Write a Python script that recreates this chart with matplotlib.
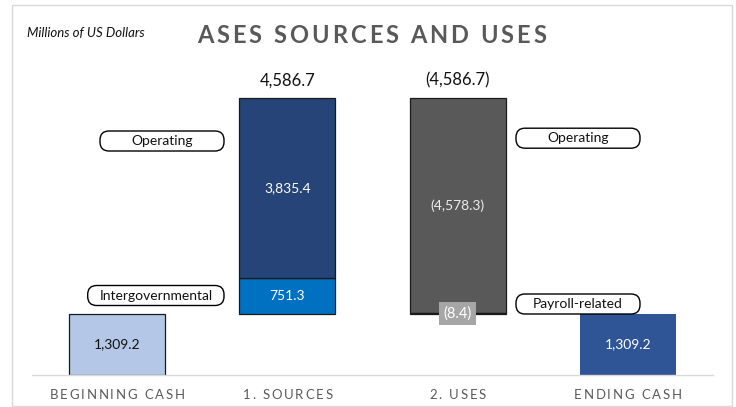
import matplotlib
matplotlib.use('Agg')
import matplotlib.pyplot as plt
from matplotlib.patches import FancyBboxPatch, Rectangle
from matplotlib.font_manager import FontProperties
from matplotlib.textpath import TextToPath
from matplotlib.transforms import IdentityTransform

# ---------------- data ----------------
categories = ['BEGINNING CASH', '1. SOURCES', '2. USES', 'ENDING CASH']
beginning_cash = 1309.2
sources_labels = ['Intergovernmental', 'Operating']
sources_values = [751.3, 3835.4]
uses_labels = ['Operating', 'Payroll-related']
uses_values = [-4578.3, -8.4]
ending_cash = 1309.2
title = 'ASES SOURCES AND USES'
unit_note = 'Millions of US Dollars'

# ---------------- styling ----------------
W, H, DPI = 736, 407, 100
FONT = 'Lato'
C_BEGIN = '#B4C7E7'
C_SRC = ['#0070C0', '#264478']
C_USE = ['#595959', '#A6A6A6']
C_END = '#2F5597'
C_TXT_GRAY = '#595959'
EDGE = '#1a1a1a'

plt.rcParams['font.family'] = [FONT, 'DejaVu Sans']

fig = plt.figure(figsize=(W / DPI, H / DPI), dpi=DPI)
fig.patch.set_facecolor('white')

# axes placed in pixel terms (image coords measured from top)
ax_left, ax_right, ax_bottom, ax_top = 32, 713, 375.3, 60
ax = fig.add_axes([ax_left / W, 1 - ax_bottom / H,
                   (ax_right - ax_left) / W, (ax_bottom - ax_top) / H])
px_per_unit = 0.0471
ax.set_xlim(-0.5, 3.5)
ax.set_ylim(0, (ax_bottom - ax_top) / px_per_unit)
for s in ['top', 'right', 'left']:
    ax.spines[s].set_visible(False)
ax.spines['bottom'].set_color('#D9D9D9')
ax.spines['bottom'].set_linewidth(1.0)
ax.set_xticks([])
ax.set_yticks([])
ax.patch.set_alpha(0)

BW = 0.563


def fmt(v):
    s = f'{abs(v):,.1f}'
    return f'({s})' if v < 0 else s


def label_in(x, bottom, height, color, size=10):
    ax.text(x, bottom + height / 2, fmt(height), ha='center', va='center',
            color=color, fontsize=size)


# beginning cash
ax.bar(0, beginning_cash, width=BW, color=C_BEGIN, edgecolor=EDGE, linewidth=0.9)
label_in(0, 0, beginning_cash, '#111111')

# sources stacked
b = beginning_cash
for v, c in zip(sources_values, C_SRC):
    ax.bar(1, v, bottom=b, width=BW, color=c, edgecolor=EDGE, linewidth=0.9)
    label_in(1, b, v, 'white')
    b += v
src_total = sum(sources_values)
top_level = b
ax.annotate(fmt(src_total), (1, top_level), xytext=(0, 8.4), textcoords='offset points',
            ha='center', va='baseline', fontsize=12, color='#111111')

# uses stacked downward
b = top_level
for i, (v, c) in enumerate(zip(uses_values, C_USE)):
    ax.bar(2, v, bottom=b, width=BW, color=c, edgecolor=EDGE, linewidth=0.9)
    if i == 0:
        label_in(2, b, v, '#EDEDED')
    else:
        ax.text(2, b + v / 2, fmt(v), ha='center', va='center', color='white',
                fontsize=10.5,
                bbox=dict(boxstyle='square,pad=0.32', fc='#A6A6A6', ec='none'))
    b += v
use_total = sum(uses_values)
ax.annotate(fmt(use_total), (2, top_level), xytext=(0, 8.4), textcoords='offset points',
            ha='center', va='baseline', fontsize=12, color='#111111')

# ending cash
ax.bar(3, ending_cash, width=BW, color=C_END, edgecolor='none')
label_in(3, 0, ending_cash, 'white')

# ---------------- pixel helpers ----------------
ID = IdentityTransform()
t2p = TextToPath()


def py(y_img):
    return H - y_img


def spaced_text(xc, baseline_img, s, size, color, weight='normal', target=None, track=0.0):
    prop = FontProperties(family=FONT, size=size, weight=weight)
    widths = [t2p.get_text_width_height_descent(ch, prop, ismath=False)[0] * DPI / 72 for ch in s]
    if target is not None:
        track = (target - sum(widths)) / (len(s) - 1)
    total = sum(widths) + track * (len(s) - 1)
    x = xc - total / 2
    for ch, w in zip(s, widths):
        fig.text(x, py(baseline_img), ch, transform=ID, fontproperties=prop,
                 color=color, ha='left', va='baseline')
        x += w + track
    return track


def callout(x0, x1, yc_img, text, h=20):
    w = x1 - x0
    p = FancyBboxPatch((x0, py(yc_img) - h / 2), w, h,
                       boxstyle=f'round,pad=0,rounding_size={h/2 - 1}',
                       transform=ID, fc='white', ec='black', lw=1.0, zorder=5)
    fig.add_artist(p)
    fig.text((x0 + x1) / 2, py(yc_img), text, transform=ID, ha='center',
             va='center', fontsize=10, color='#111111', zorder=6)


# title & unit note
spaced_text(371.5, 43, title, 17, C_TXT_GRAY, weight='bold', target=349)
fig.text(27, py(36.7), unit_note, transform=ID, ha='left', va='baseline',
         fontsize=9.5, style='italic', color='#111111')

# category labels (letter-spaced)
cat_x_px = [ax.transData.transform((i, 0))[0] for i in range(len(categories))]
trk = None
for i, (cx, cat) in enumerate(zip(cat_x_px, categories)):
    if i == 0:
        trk = spaced_text(cx, 398.7, cat, 9.45, C_TXT_GRAY, target=135)
    else:
        spaced_text(cx, 398.7, cat, 9.45, C_TXT_GRAY, track=trk)

# callouts
callout(100, 224, 141, sources_labels[1])
callout(87.7, 224, 295.5, sources_labels[0])
callout(516, 640, 138.2, uses_labels[0])
callout(516, 640, 304, uses_labels[1])

# outer frame
fig.add_artist(Rectangle((11.7, py(406)), 732 - 11.7, 406 - 5.3, transform=ID,
                         fill=False, ec='#D9D9D9', lw=1.0))

fig.savefig('out.png', dpi=DPI)
